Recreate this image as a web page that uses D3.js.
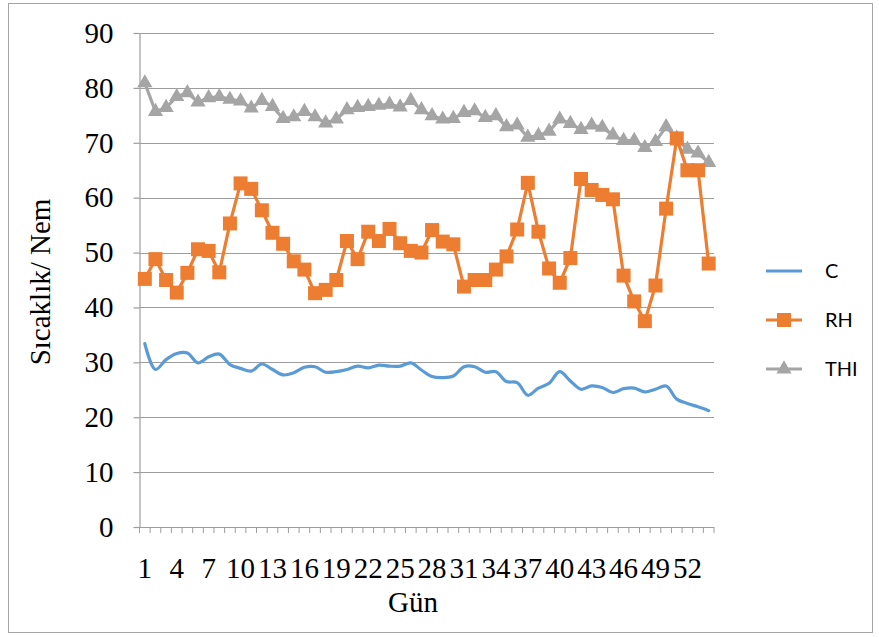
<!DOCTYPE html>
<html>
<head>
<meta charset="utf-8">
<script src="https://cdn.jsdelivr.net/npm/d3@7"></script>
<style>
  html, body { margin: 0; padding: 0; background: #fff; }
  svg { display: block; }
</style>
</head>
<body>
<svg id="chart" width="879" height="637"></svg>
<script>
// Day index 1..54
const days = d3.range(1, 55);

// Temperature (C)
const seriesC = [33.4, 28.7, 30.5, 31.6, 31.7, 29.9, 31.0, 31.5, 29.6, 28.9,
  28.4, 29.7, 28.7, 27.7, 28.1, 29.1, 29.2, 28.2, 28.3, 28.7,
  29.3, 29.0, 29.5, 29.3, 29.3, 29.9, 28.6, 27.4, 27.2, 27.5,
  29.2, 29.2, 28.2, 28.3, 26.5, 26.3, 24.0, 25.3, 26.2, 28.3,
  26.6, 25.1, 25.7, 25.4, 24.5, 25.2, 25.3, 24.6, 25.1, 25.7,
  23.3, 22.5, 21.9, 21.2];

// Relative humidity (RH)
const seriesRH = [45.2, 48.8, 45.0, 42.7, 46.3, 50.6, 50.3, 46.4, 55.3, 62.6,
  61.6, 57.7, 53.6, 51.6, 48.4, 46.9, 42.6, 43.2, 45.0, 52.1,
  48.8, 53.8, 52.1, 54.3, 51.7, 50.3, 50.0, 54.1, 52.0, 51.5,
  43.8, 45.0, 45.0, 46.9, 49.3, 54.2, 62.7, 53.8, 47.1, 44.5,
  49.0, 63.4, 61.4, 60.5, 59.7, 45.8, 41.1, 37.5, 44.0, 58.0,
  70.8, 65.0, 65.0, 48.0];

// Temperature-humidity index (THI)
const seriesTHI = [80.9, 75.7, 76.4, 78.4, 79.1, 77.4, 78.2, 78.4, 77.9, 77.6,
  76.3, 77.7, 76.6, 74.4, 74.7, 75.7, 74.7, 73.6, 74.3, 76.0,
  76.4, 76.6, 76.8, 77.0, 76.5, 77.7, 76.0, 74.9, 74.3, 74.4,
  75.5, 75.8, 74.6, 74.9, 72.9, 73.2, 71.0, 71.3, 72.1, 74.3,
  73.5, 72.4, 73.2, 72.8, 71.4, 70.4, 70.4, 69.1, 70.2, 72.9,
  70.8, 68.8, 68.1, 66.4];

const yTicks = [0, 10, 20, 30, 40, 50, 60, 70, 80, 90];
const xLabelDays = days.filter(d => (d - 1) % 3 === 0);

const colors = { C: "#5B9BD5", RH: "#ED7D31", THI: "#A5A5A5" };
const serif = "'Liberation Serif', 'Times New Roman', serif";
const sans = "Lato, 'Open Sans', sans-serif";

const svg = d3.select("#chart");

// Outer chart frame
svg.append("rect")
  .attr("x", 8.5).attr("y", 3.5).attr("width", 864).attr("height", 629)
  .attr("fill", "#fff").attr("stroke", "#a6a6a6").attr("stroke-width", 1);

const plot = { left: 139.5, right: 714, top: 33, bottom: 527 };

const x = d3.scaleBand().domain(days).range([plot.left, plot.right]).padding(0);
const cx = d => x(d) + x.bandwidth() / 2;
const y = d3.scaleLinear().domain([0, 90]).range([plot.bottom, plot.top]);

// Horizontal gridlines
svg.append("g")
  .selectAll("line")
  .data(yTicks.filter(t => t > 0))
  .join("line")
  .attr("x1", plot.left).attr("x2", plot.right)
  .attr("y1", d => Math.round(y(d)) + 0.5).attr("y2", d => Math.round(y(d)) + 0.5)
  .attr("stroke", "#9d9d9d").attr("stroke-width", 1.2);

// Y axis
const yAxis = d3.axisLeft(y).tickValues(yTicks).tickSize(6).tickPadding(20).tickSizeOuter(0);
const gy = svg.append("g")
  .attr("transform", `translate(${plot.left},0)`)
  .call(yAxis);
gy.select(".domain").attr("stroke", "#9d9d9d").attr("stroke-width", 1.2);
gy.selectAll(".tick line").attr("stroke", "#9d9d9d").attr("stroke-width", 1.2);
gy.selectAll(".tick text")
  .attr("font-family", serif).attr("font-size", 29).attr("fill", "#000");

// X axis: tick marks on category boundaries, labels every third day
const boundaries = days.map(d => x(d)).concat([plot.right]);
const gx = svg.append("g");
gx.append("line")
  .attr("x1", plot.left).attr("x2", plot.right)
  .attr("y1", plot.bottom + 0.5).attr("y2", plot.bottom + 0.5)
  .attr("stroke", "#9d9d9d").attr("stroke-width", 1.2);
gx.selectAll("line.tk")
  .data(boundaries)
  .join("line")
  .attr("class", "tk")
  .attr("x1", d => d).attr("x2", d => d)
  .attr("y1", plot.bottom).attr("y2", plot.bottom + 6)
  .attr("stroke", "#9d9d9d").attr("stroke-width", 1);
gx.selectAll("text")
  .data(xLabelDays)
  .join("text")
  .attr("x", d => cx(d))
  .attr("y", 578)
  .attr("text-anchor", "middle")
  .attr("font-family", serif).attr("font-size", 29).attr("fill", "#000")
  .text(d => d);

// Axis titles
svg.append("text")
  .attr("x", 413).attr("y", 612)
  .attr("text-anchor", "middle")
  .attr("font-family", serif).attr("font-size", 29).attr("fill", "#000")
  .text("Gün");
svg.append("text")
  .attr("transform", "translate(50,282) rotate(-90)")
  .attr("text-anchor", "middle")
  .attr("font-family", serif).attr("font-size", 29).attr("fill", "#000")
  .text("Sıcaklık/ Nem");

// Series C: smoothed line, no markers
const lineSmooth = d3.line().x((d, i) => cx(days[i])).y(d => y(d)).curve(d3.curveCatmullRom.alpha(0.5));
svg.append("path")
  .datum(seriesC)
  .attr("d", lineSmooth)
  .attr("fill", "none").attr("stroke", colors.C).attr("stroke-width", 3.2)
  .attr("stroke-linejoin", "round").attr("stroke-linecap", "round");

// Series THI: line with triangle markers
const lineStraight = d3.line().x((d, i) => cx(days[i])).y(d => y(d));
svg.append("path")
  .datum(seriesTHI)
  .attr("d", lineStraight)
  .attr("fill", "none").attr("stroke", colors.THI).attr("stroke-width", 3.2)
  .attr("stroke-linejoin", "round");
const tri = d3.symbol().type(d3.symbolTriangle).size(100);
svg.append("g").selectAll("path")
  .data(seriesTHI)
  .join("path")
  .attr("transform", (d, i) => `translate(${cx(days[i])},${y(d)})`)
  .attr("d", tri)
  .attr("fill", colors.THI);

// Series RH: line with square markers
svg.append("path")
  .datum(seriesRH)
  .attr("d", lineStraight)
  .attr("fill", "none").attr("stroke", colors.RH).attr("stroke-width", 3.2)
  .attr("stroke-linejoin", "round");
const sq = 14;
svg.append("g").selectAll("rect")
  .data(seriesRH)
  .join("rect")
  .attr("x", (d, i) => cx(days[i]) - sq / 2)
  .attr("y", d => y(d) - sq / 2)
  .attr("width", sq).attr("height", sq)
  .attr("fill", colors.RH);

// Legend
const legendItems = [
  { key: "C", label: "C", y: 271 },
  { key: "RH", label: "RH", y: 320 },
  { key: "THI", label: "THI", y: 369 }
];
const lg = svg.append("g");
legendItems.forEach(it => {
  lg.append("line")
    .attr("x1", 766).attr("x2", 802)
    .attr("y1", it.y).attr("y2", it.y)
    .attr("stroke", colors[it.key]).attr("stroke-width", 3.2);
  if (it.key === "RH") {
    lg.append("rect")
      .attr("x", 784 - sq / 2).attr("y", it.y - sq / 2)
      .attr("width", sq).attr("height", sq).attr("fill", colors.RH);
  }
  if (it.key === "THI") {
    lg.append("path")
      .attr("transform", `translate(784,${it.y})`)
      .attr("d", tri).attr("fill", colors.THI);
  }
  lg.append("text")
    .attr("x", 825).attr("y", it.y + 7)
    .attr("font-family", sans).attr("font-size", 20).attr("fill", "#000")
    .text(it.label);
});
</script>
</body>
</html>
